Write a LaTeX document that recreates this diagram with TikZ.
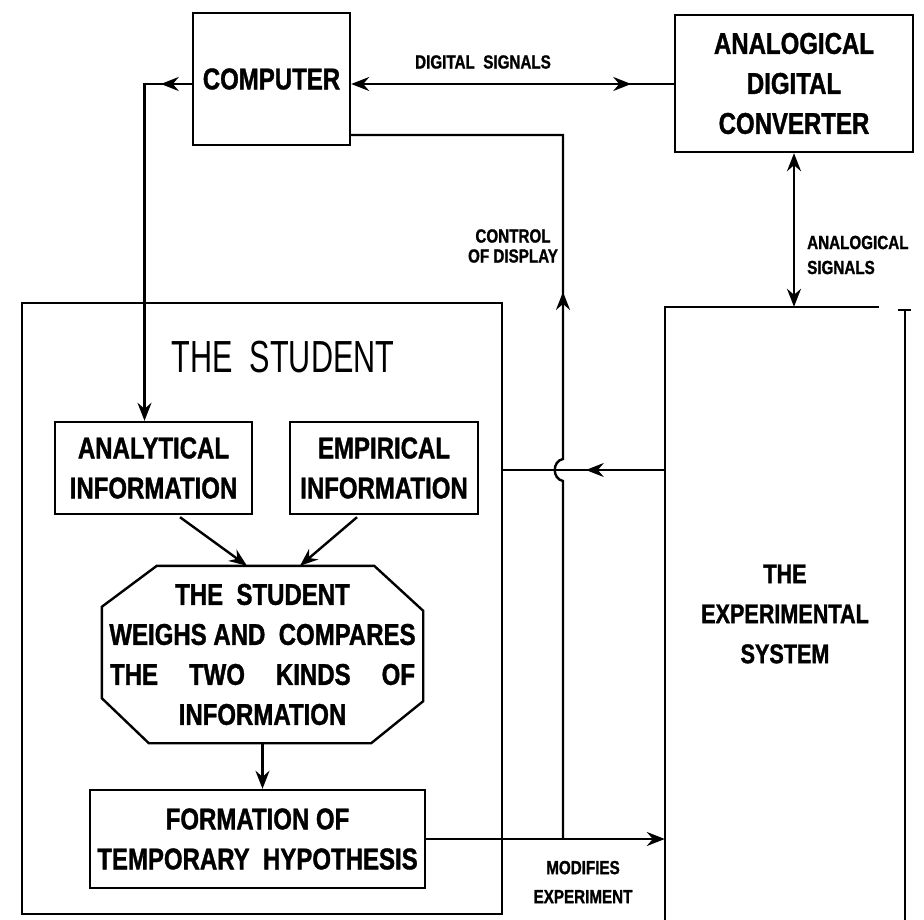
\documentclass[tikz,border=0pt]{standalone}
\usepackage{fontspec}
\newfontfamily\labfont[FakeStretch=0.8,BoldFeatures={FakeBold=1.2}]{Liberation Sans}
\newfontfamily\titfont[FakeStretch=0.68]{Liberation Sans}
\usetikzlibrary{arrows.meta,decorations.markings,calc}
\begin{document}
\begin{tikzpicture}[x=1pt,y=-1pt,line width=2.4pt,
  >={Stealth[length=18pt,width=14pt,inset=6pt]},
  box/.style={draw,rectangle,inner sep=0pt,align=center},
  big/.style={font=\labfont\bfseries\fontsize{30}{40}\selectfont},
  small/.style={font=\labfont\bfseries\fontsize{19}{#1}\selectfont,inner sep=0pt},
  markat/.style={postaction={decorate,decoration={markings,mark=at position #1 with {\arrow{>}}}}}
]
\useasboundingbox (0,0) rectangle (924,920);

% boxes
\node[box,big,minimum width=157pt,minimum height=132pt] (comp) at (271.5,79) {COMPUTER};
\node[box,big,minimum width=238pt,minimum height=137pt] (adc) at (794,83.5) {ANALOGICAL\\DIGITAL\\CONVERTER};
\node[box,minimum width=480pt,minimum height=611pt] (stu) at (262,608.5) {};
\node[font=\titfont\fontsize{45}{50}\selectfont,inner sep=0pt] (title) at (283,357) {THE\ \ STUDENT};
\node[box,big,minimum width=197pt,minimum height=92pt] (ana) at (153.5,468) {ANALYTICAL\\INFORMATION};
\node[box,big,minimum width=188pt,minimum height=92pt] (emp) at (384,468) {EMPIRICAL\\INFORMATION};
\node[big,align=center,inner sep=0pt,minimum width=319pt,minimum height=175pt] (oct) at (262.5,654.5)
  {THE\ \ STUDENT\\WEIGHS AND\ \ COMPARES\\\makebox[305pt][s]{THE \ TWO \ KINDS \ OF}\\INFORMATION};
\draw ($(oct.north west)+(55,0)$) -- ($(oct.north east)+(-49,0)$) -- ($(oct.north east)+(0,45)$)
  -- ($(oct.south east)+(0,-42)$) -- ($(oct.south east)+(-52,0)$) -- ($(oct.south west)+(47,0)$)
  -- ($(oct.south west)+(0,-45)$) -- ($(oct.north west)+(0,41)$) -- cycle;
\node[box,big,minimum width=335pt,minimum height=98pt] (hyp) at (257.5,839) {FORMATION OF\\TEMPORARY\ \ HYPOTHESIS};
\node[big,align=center,inner sep=0pt,minimum width=238pt,minimum height=612pt,
  font=\labfont\bfseries\fontsize{27}{40}\selectfont] (exp) at (785,614) {THE\\EXPERIMENTAL\\SYSTEM};
\draw (exp.south west) -- (exp.north west) -- ($(exp.north east)+(-26,0)$);
\draw ($(exp.north east)+(0,3)$) -- (exp.south east);
\draw[line width=2pt] ($(exp.north east)+(-7,3)$) -- ($(exp.north east)+(6,3)$);

% connectors
\draw[<-,markat=280pt] ($(comp.east)+(0,5)$) -- ($(adc.west)+(0,0.5)$);
\node[small=20] (dsig) at (483,62) {DIGITAL\ \ SIGNALS};

\draw[->,markat=31pt] ($(comp.west)+(0,5)$) -| ($(ana.north)+(-9,0)$);

\coordinate (cj) at (563,839);
\coordinate (ctop) at (563,135);
\draw[markat=555pt] (cj) -- (563,481) .. controls (552,479) and (552,461) .. (563,459) -- (ctop) -- (comp.east |- ctop);
\node[small=20,align=center] (cod) at (513,246) {CONTROL\\OF DISPLAY};

\draw[markat=79pt] (exp.west |- 0,470) -- (stu.east |- 0,470);

\draw[<->] (adc.south) -- (adc.south |- exp.north);
\node[small=25,align=left,anchor=west] (asig) at (806,255) {ANALOGICAL\\SIGNALS};

\draw[->] ($(ana.south)+(26.5,2)$) -- ($(oct.north)+(-15.5,0)$);
\draw[->] ($(emp.south)+(-27,2)$) -- ($(oct.north)+(37.5,0)$);
\draw[->] (oct.south) -- (oct.south |- hyp.north);

\draw[->] (hyp.east) -- (hyp.east -| exp.west);
\node[small=29,align=center] (modx) at (583,882) {MODIFIES\\EXPERIMENT};
\end{tikzpicture}
\end{document}
